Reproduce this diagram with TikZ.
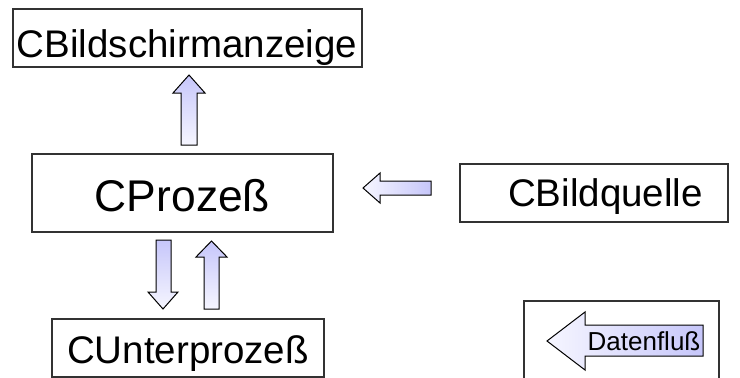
\documentclass[tikz,border=0pt]{standalone}
\usepackage{fontspec}
\setmainfont{Liberation Sans}
\definecolor{arrowdark}{RGB}{198,198,250}
\definecolor{arrowlight}{RGB}{246,246,255}
\definecolor{boxline}{RGB}{50,50,50}
\begin{document}
\begin{tikzpicture}[x=1pt,y=-1pt,
  box/.style={draw=boxline, line width=1.2pt, fill=white, inner sep=0pt},
  lbl/.style={inner sep=0pt, anchor=base, font=\fontsize{38.5}{46}\selectfont},
  biglbl/.style={inner sep=0pt, anchor=base, font=\fontsize{44.4}{52}\selectfont},
  smalllbl/.style={inner sep=0pt, anchor=base, font=\fontsize{26}{31}\selectfont},
  varrow/.style={draw=black, line width=1pt, line join=miter, top color=arrowdark, bottom color=arrowlight},
  harrow/.style={draw=black, line width=1pt, line join=miter, left color=arrowlight, right color=arrowdark}]
\useasboundingbox (0,0) rectangle (740,378);
% boxes
\node[box, minimum width=349pt, minimum height=58pt] (A) at (187.5,38) {};
\node[lbl] (At) at (187,57) {CBildschirmanzeige};
\node[box, minimum width=301pt, minimum height=78pt] (P) at (182.5,193) {};
\node[biglbl] (Pt) at (182.5,211) {CProzeß};
\node[box, minimum width=268pt, minimum height=58pt] (Q) at (594,193) {};
\node[lbl] (Qt) at (605.5,206) {CBildquelle};
\node[box, minimum width=272pt, minimum height=58pt] (U) at (188,348) {};
\node[lbl] (Ut) at (188,363) {CUnterprozeß};
% legend frame (bottom edge lies outside the picture)
\draw[draw=boxline, line width=1.2pt] (524,400) -- (524,301) -- (719,301) -- (719,400);
% block arrows
\draw[varrow] (189,75) -- (205,93) -- (197,93) -- (197,145) -- (181,145) -- (181,93) -- (173,93) -- cycle;
\draw[harrow] (363,188) -- (380,173) -- (380,181) -- (431,181) -- (431,195) -- (380,195) -- (380,203) -- cycle;
\draw[varrow] (163,309) -- (148,292) -- (156,292) -- (156,240) -- (171,240) -- (171,292) -- (178,292) -- cycle;
\draw[varrow] (211.5,241) -- (227,257) -- (219,257) -- (219,309) -- (204,309) -- (204,257) -- (196,257) -- cycle;
\draw[harrow] (547,341) -- (585,312) -- (585,325) -- (703,325) -- (703,356) -- (585,356) -- (585,370) -- cycle;
\node[smalllbl] (Lt) at (644,350) {Datenfluß};
\end{tikzpicture}
\end{document}
